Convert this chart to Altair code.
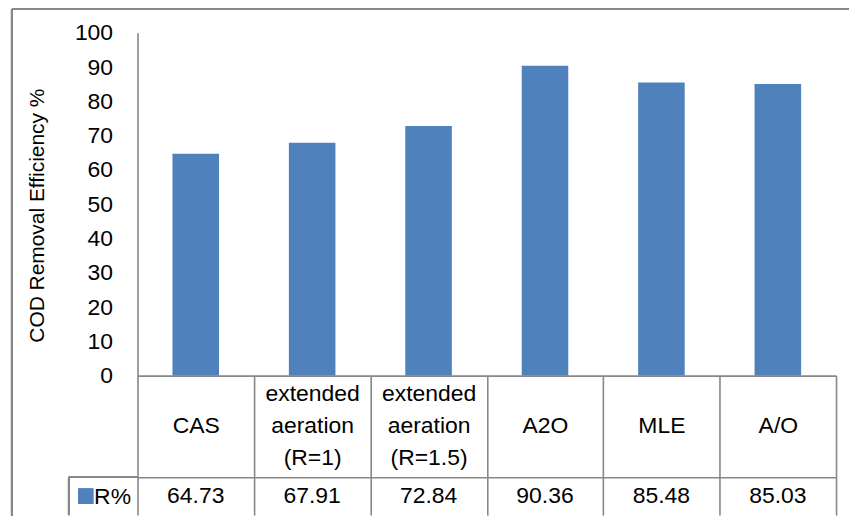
import altair as alt
import pandas as pd

categories = ["CAS", "extended\naeration\n(R=1)", "extended\naeration\n(R=1.5)", "A2O", "MLE", "A/O"]
values = [64.73, 67.91, 72.84, 90.36, 85.48, 85.03]
series_name = "R%"
y_ticks = [0, 10, 20, 30, 40, 50, 60, 70, 80, 90, 100]
y_title = "COD Removal Efficiency %"

df = pd.DataFrame({"category": categories, "value": values, "series": [series_name] * len(categories)})

FONT = "Liberation Sans"
BLUE = "#4F81BD"
GRAY = "#878787"
LW = 1.6

x_scale = alt.Scale(domain=categories, paddingInner=0, paddingOuter=0)

base = alt.Chart(df)

# pad single-line labels to three lines so every label is centred in the cell
label_expr = ("length(split(datum.label, '\\n')) == 1 ? ['', datum.label, ''] : "
              "split(datum.label, '\\n')")

bars = base.mark_bar(color=BLUE, width=alt.RelativeBandSize(0.4)).encode(
    x=alt.X("category:N", sort=categories, scale=x_scale, title=None,
            axis=alt.Axis(labelExpr=label_expr, labelAngle=0,
                          labelFontSize=23, labelLineHeight=32, labelFont=FONT, labelColor="black",
                          labelBaseline="middle", labelPadding=-84, labelOverlap=False, labelLimit=0,
                          ticks=True, tickBand="extent", tickSize=102, tickColor=GRAY, tickWidth=LW,
                          domain=True, domainColor=GRAY, domainWidth=LW, grid=False)),
    y=alt.Y("value:Q", scale=alt.Scale(domain=[0, 100], nice=False), title=y_title,
            axis=alt.Axis(values=y_ticks, grid=False, ticks=False, domain=True, domainColor=GRAY,
                          domainWidth=LW, labelFontSize=23, labelFont=FONT, labelColor="black",
                          labelPadding=25, titleFont=FONT, titleFontSize=21, titleFontWeight="normal",
                          titleColor="black", titleX=-100, titleY=183, titleAngle=270,
                          titleAlign="center", titleBaseline="middle")),
)

frame_top = base.mark_rule(color=GRAY, strokeWidth=2).encode(
    x=alt.value(-126), x2=alt.value(714), y=alt.value(-24))
frame_left = base.mark_rule(color=GRAY, strokeWidth=2).encode(
    x=alt.value(-126), y=alt.value(-24), y2=alt.value(485))

top = alt.layer(frame_top, frame_left, bars).properties(
    width=701, height=344, view=alt.ViewBackground(stroke="transparent"))

cell_top = base.mark_rule(color=GRAY, strokeWidth=LW).encode(
    x=alt.value(-69), x2=alt.value(0), y=alt.value(0))
cell_left = base.mark_rule(color=GRAY, strokeWidth=LW).encode(
    x=alt.value(-69), y=alt.value(0), y2=alt.value(38))

vals = base.mark_text(fontSize=23, font=FONT, color="black").encode(
    x=alt.X("category:N", sort=categories, scale=x_scale, title=None,
            axis=alt.Axis(orient="top", labels=False, ticks=False, domain=True, domainColor=GRAY,
                          domainWidth=LW, grid=True, gridColor=GRAY, gridWidth=LW, gridOpacity=1,
                          tickBand="extent")),
    y=alt.Y("series:N", title=None,
            axis=alt.Axis(ticks=False, domain=False, grid=False, labelFontSize=23, labelFont=FONT,
                          labelColor="black", labelPadding=7)),
    text=alt.Text("value:Q", format=".2f"),
)
key = base.mark_square(color=BLUE, size=225, opacity=1).encode(
    x=alt.value(-52), y=alt.Y("series:N"))

bottom = alt.layer(cell_top, cell_left, vals, key).properties(
    width=701, height=38, view=alt.ViewBackground(stroke="transparent"))

chart = alt.vconcat(top, bottom, spacing=102, bounds="flush").properties(
    padding={"left": 10, "top": 6, "right": 0, "bottom": 0},
    background="white",
).configure_view(stroke="transparent")

chart.save("out.html", embed_options={"renderer": "svg", "actions": False})
